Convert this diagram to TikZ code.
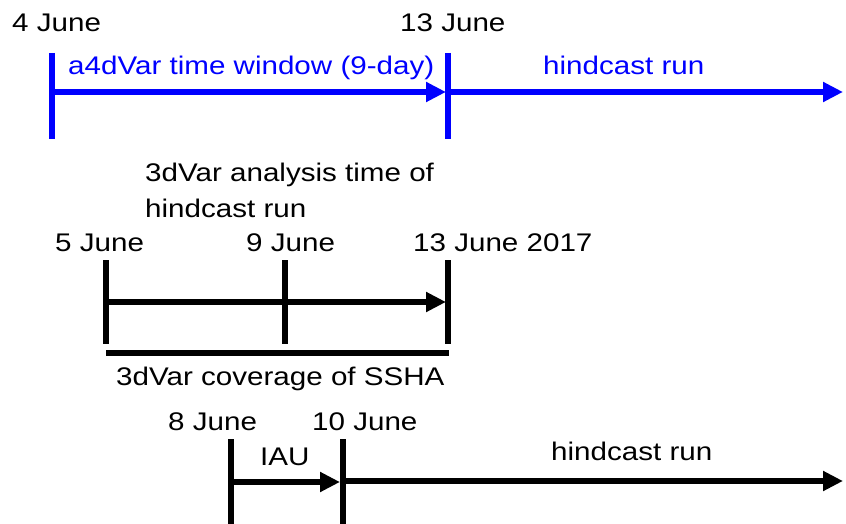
\documentclass[tikz,border=0pt]{standalone}
\usepackage{fontspec}
\setmainfont[FakeStretch=1.16]{Liberation Sans}
\usetikzlibrary{arrows.meta}
\definecolor{pblue}{RGB}{0,0,255}
\begin{document}
\begin{tikzpicture}[x=1pt,y=-1pt,
  lbl/.style={anchor=base west, inner sep=0pt, font=\fontsize{25.5}{30}\selectfont},
  tickline/.style={line width=6pt},
  arr/.style={line width=5.5pt, -{Triangle[length=20pt,width=19pt]}},
  barline/.style={line width=6pt}]
\useasboundingbox (0,0) rectangle (846,524);
% ---------- top (blue) ----------
\coordinate (t1a) at (51.5,53);  \coordinate (t1b) at (51.5,139);
\coordinate (t2a) at (448,53);   \coordinate (t2b) at (448,139);
\coordinate (a1s) at (51.5,92);  \coordinate (a1e) at (446,92);
\coordinate (a2s) at (448,92);   \coordinate (a2e) at (843,92);
\draw[tickline, pblue] (t1a) -- (t1b);
\draw[tickline, pblue] (t2a) -- (t2b);
\draw[arr, pblue] (a1s) -- (a1e);
\draw[arr, pblue] (a2s) -- (a2e);
\node[lbl] (d4) at (12,32) {4 June};
\node[lbl] (d13a) at (400,32) {13 June};
\node[lbl, text=pblue] (win) at (68,75) {a4dVar time window (9-day)};
\node[lbl, text=pblue] (hc1) at (543,75) {hindcast run};
% ---------- middle ----------
\node[lbl] (an1) at (145,182) {3dVar analysis time of};
\node[lbl] (an2) at (145,217) {hindcast run};
\node[lbl] (d5) at (55,251) {5 June};
\node[lbl] (d9) at (246,251) {9 June};
\node[lbl] (d13b) at (413,251) {13 June 2017};
\coordinate (m1a) at (106,260); \coordinate (m1b) at (106,344);
\coordinate (m2a) at (284.5,260); \coordinate (m2b) at (284.5,344);
\coordinate (m3a) at (448,260); \coordinate (m3b) at (448,344);
\coordinate (ma) at (106,302); \coordinate (mb) at (446,302);
\coordinate (ba) at (106,353); \coordinate (bb) at (449,353);
\draw[tickline] (m1a) -- (m1b);
\draw[tickline] (m2a) -- (m2b);
\draw[tickline] (m3a) -- (m3b);
\draw[arr] (ma) -- (mb);
\draw[barline] (ba) -- (bb);
\node[lbl] (cov) at (116,385) {3dVar coverage of SSHA};
% ---------- bottom ----------
\node[lbl] (d8) at (168,430) {8 June};
\node[lbl] (d10) at (312,430) {10 June};
\node[lbl] (iau) at (260,465) {IAU};
\node[lbl] (hc2) at (551,460) {hindcast run};
\coordinate (b1a) at (230.5,439); \coordinate (b1b) at (230.5,524);
\coordinate (b2a) at (342.5,439); \coordinate (b2b) at (342.5,524);
\coordinate (c1s) at (230.5,482); \coordinate (c1e) at (340,482);
\coordinate (c2s) at (342.5,481); \coordinate (c2e) at (843,481);
\draw[tickline] (b1a) -- (b1b);
\draw[tickline] (b2a) -- (b2b);
\draw[arr] (c1s) -- (c1e);
\draw[arr] (c2s) -- (c2e);
\end{tikzpicture}
\end{document}
